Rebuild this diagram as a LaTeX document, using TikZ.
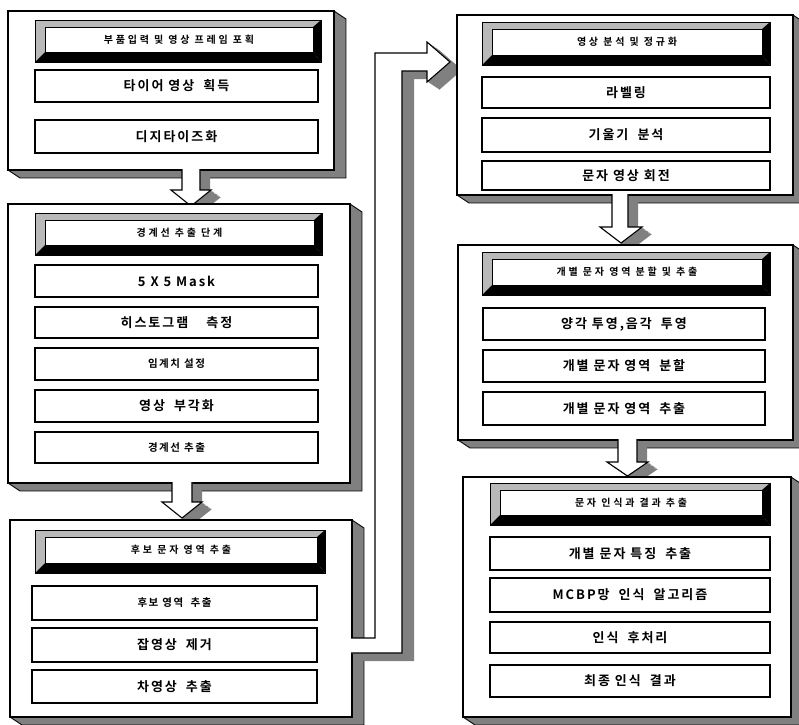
\documentclass[tikz,border=0pt]{standalone}
\usepackage{fontspec}
\newfontfamily\kr{Noto Sans CJK KR}[BoldFont=* Bold, LetterSpace=15]
\newfontfamily\krt{Noto Sans CJK KR}[BoldFont=* Bold, LetterSpace=28]
\newcommand\gap{\hspace{0.7em}}
\definecolor{sidegray}{RGB}{128,128,128}
\definecolor{bevelgray}{RGB}{185,185,185}
\tikzset{
  tex/.style={fill=sidegray},
  lighttex/.style={fill=bevelgray},
  frontface/.style={fill=white, draw=black, line width=1.3pt, inner sep=0pt},
  itembox/.style={draw=black, line width=1.1pt, fill=white, inner sep=0pt,
    font=\kr\bfseries\fontsize{13}{15}\selectfont},
  smallitem/.style={itembox, font=\kr\bfseries\fontsize{10.5}{12}\selectfont},
  titletext/.style={fill=white, draw=black, line width=0.8pt, inner sep=0pt,
    font=\krt\bfseries\fontsize{10}{12}\selectfont},
  edge3d/.style={draw=black, line width=1.1pt},
}
% style, name, x1, y1, x2, y2, text
\newcommand\boxat[7]{%
  \node[#1, minimum width={((#5)-(#3))*1pt}, minimum height={((#6)-(#4))*1pt}]
    (#2) at ({((#3)+(#5))/2},{((#4)+(#6))/2}) {#7};}
% name, x1, y1, x2, y2
\newcommand\panel[5]{%
  \foreach \t in {0,1,...,12}{%
    \fill[tex, shift={(\t,0.67*\t)}] (#2,#3) rectangle (#4,#5);}
  \draw[line width=0.9pt] (#4,#3) -- (#4+12,#3+8) -- (#4+12,#5+8) -- (#2+12,#5+8) -- (#2,#5);
  \boxat{frontface}{#1}{#2}{#3}{#4}{#5}{}}
% name, x1, y1, x2, y2, text
\newcommand\titlebox[6]{%
  \fill[lighttex] (#2,#3) -- (#4,#3) -- (#4-8,#3+7) -- (#2+10,#3+7) -- cycle;
  \fill[lighttex] (#2,#3) -- (#2+10,#3+7) -- (#2+10,#5-10) -- (#2,#5) -- cycle;
  \fill[black] (#4,#3) -- (#4,#5) -- (#4-8,#5-10) -- (#4-8,#3+7) -- cycle;
  \fill[black] (#2,#5) -- (#4,#5) -- (#4-8,#5-10) -- (#2+10,#5-10) -- cycle;
  \draw[line width=1pt] (#2,#3) rectangle (#4,#5);
  \boxat{titletext}{#1}{#2+10}{#3+7}{#4-8}{#5-10}{#6}}
% name, a, b, ytop, yh, c, d, ytip  (down block arrow with 3d side)
\newcommand\downarr[8]{%
  \foreach \t in {0,1,...,10}{%
    \fill[tex, shift={(\t,0.7*\t)}] (#2,#4) -- (#2,#5) -- (#6,#5) -- ({(#6+#7)/2},#8)
      -- (#7,#5) -- (#3,#5) -- (#3,#4) -- cycle;}
  \fill[white] (#2,#4-1) -- (#2,#5) -- (#6,#5) -- ({(#6+#7)/2},#8)
      -- (#7,#5) -- (#3,#5) -- (#3,#4-1) -- cycle;
  \draw[edge3d] (#2,#4-1) -- (#2,#5) -- (#6,#5) -- ({(#6+#7)/2},#8)
      -- (#7,#5) -- (#3,#5) -- (#3,#4-1);
  \coordinate (#1) at ({(#6+#7)/2},#8);}
\def\pipepath{(351,638) -- (375,638) -- (375,53) -- (427,53) -- (427,42) -- (450,62)
  -- (427,82) -- (427,71) -- (402,71) -- (402,653) -- (351,653)}
\begin{document}
\begin{tikzpicture}[x=1pt,y=-1pt]
\useasboundingbox (0,0) rectangle (799,724);
\fill[white] (0,0) rectangle (799,724);

% ---------- Panel 1
\panel{p1}{8}{11}{334}{170}
\titlebox{t1}{35}{20}{321}{62}{부품입력 및 영상 프레임 포획}
\boxat{itembox}{i11}{35}{70}{318}{102}{타이어 영상\gap 획득}
\boxat{itembox}{i12}{35}{120}{318}{153}{디지타이즈화}

\downarr{a1}{182}{200}{170}{190}{171}{211}{206}

% ---------- Panel 2
\panel{p2}{8}{204}{350}{483}
\titlebox{t2}{35}{213}{322}{255}{경계선 추출 단계}
\boxat{itembox}{i21}{35}{265}{318}{297}{5 X 5 Mask}
\boxat{itembox}{i22}{35}{307}{318}{338}{히스토그램\gap\gap 측정}
\boxat{smallitem}{i23}{35}{348}{318}{380}{임계치 설정}
\boxat{itembox}{i24}{35}{390}{318}{422}{영상\gap 부각화}
\boxat{smallitem}{i25}{35}{432}{318}{463}{경계선 추출}

\downarr{a2}{172}{192}{483}{502}{162}{202}{518}

% ---------- Panel 3
\panel{p3}{10}{520}{352}{717}
\titlebox{t3}{35}{530}{325}{573}{후보 문자 영역 추출}
\boxat{smallitem}{i31}{32}{586}{317}{620}{후보 영역\gap 추출}
\boxat{itembox}{i32}{32}{628}{317}{662}{잡영상\gap 제거}
\boxat{itembox}{i33}{32}{670}{317}{703}{차영상\gap 추출}

% ---------- L-shaped connector from panel 3 to panel 4
\foreach \t in {0,1,...,12}{\fill[tex, shift={(\t,0.67*\t)}] \pipepath -- cycle;}
\fill[white] \pipepath -- cycle;
\draw[edge3d] \pipepath;
\coordinate (a0) at (450,62);

% ---------- Panel 4
\panel{p4}{457}{15}{793}{195}
\titlebox{t4}{482}{22}{770}{65}{영상 분석 및 정규화}
\boxat{itembox}{i41}{482}{77}{770}{108}{라벨링}
\boxat{itembox}{i42}{482}{118}{770}{152}{기울기\gap 분석}
\boxat{itembox}{i43}{482}{161}{770}{190}{문자 영상 회전}

\downarr{a3}{612}{628}{195}{227}{600}{642}{243}

% ---------- Panel 5
\panel{p5}{458}{245}{793}{440}
\titlebox{t5}{482}{252}{770}{295}{개별 문자 영역 분할 및 추출}
\boxat{itembox}{i51}{483}{308}{765}{340}{양각 투영,음각\gap 투영}
\boxat{itembox}{i52}{483}{350}{765}{382}{개별 문자 영역\gap 분할}
\boxat{itembox}{i53}{483}{392}{765}{425}{개별 문자 영역\gap 추출}

\downarr{a4}{618}{637}{440}{462}{607}{648}{476}

% ---------- Panel 6
\panel{p6}{463}{477}{791}{717}
\titlebox{t6}{490}{483}{770}{525}{문자 인식과 결과 추출}
\boxat{itembox}{i61}{490}{537}{770}{570}{개별 문자 특징\gap 추출}
\boxat{itembox}{i62}{490}{578}{770}{612}{MCBP망\gap 인식\gap 알고리즘}
\boxat{itembox}{i63}{490}{622}{770}{653}{인식\gap 후처리}
\boxat{itembox}{i64}{490}{665}{770}{697}{최종 인식\gap 결과}
\end{tikzpicture}
\end{document}
